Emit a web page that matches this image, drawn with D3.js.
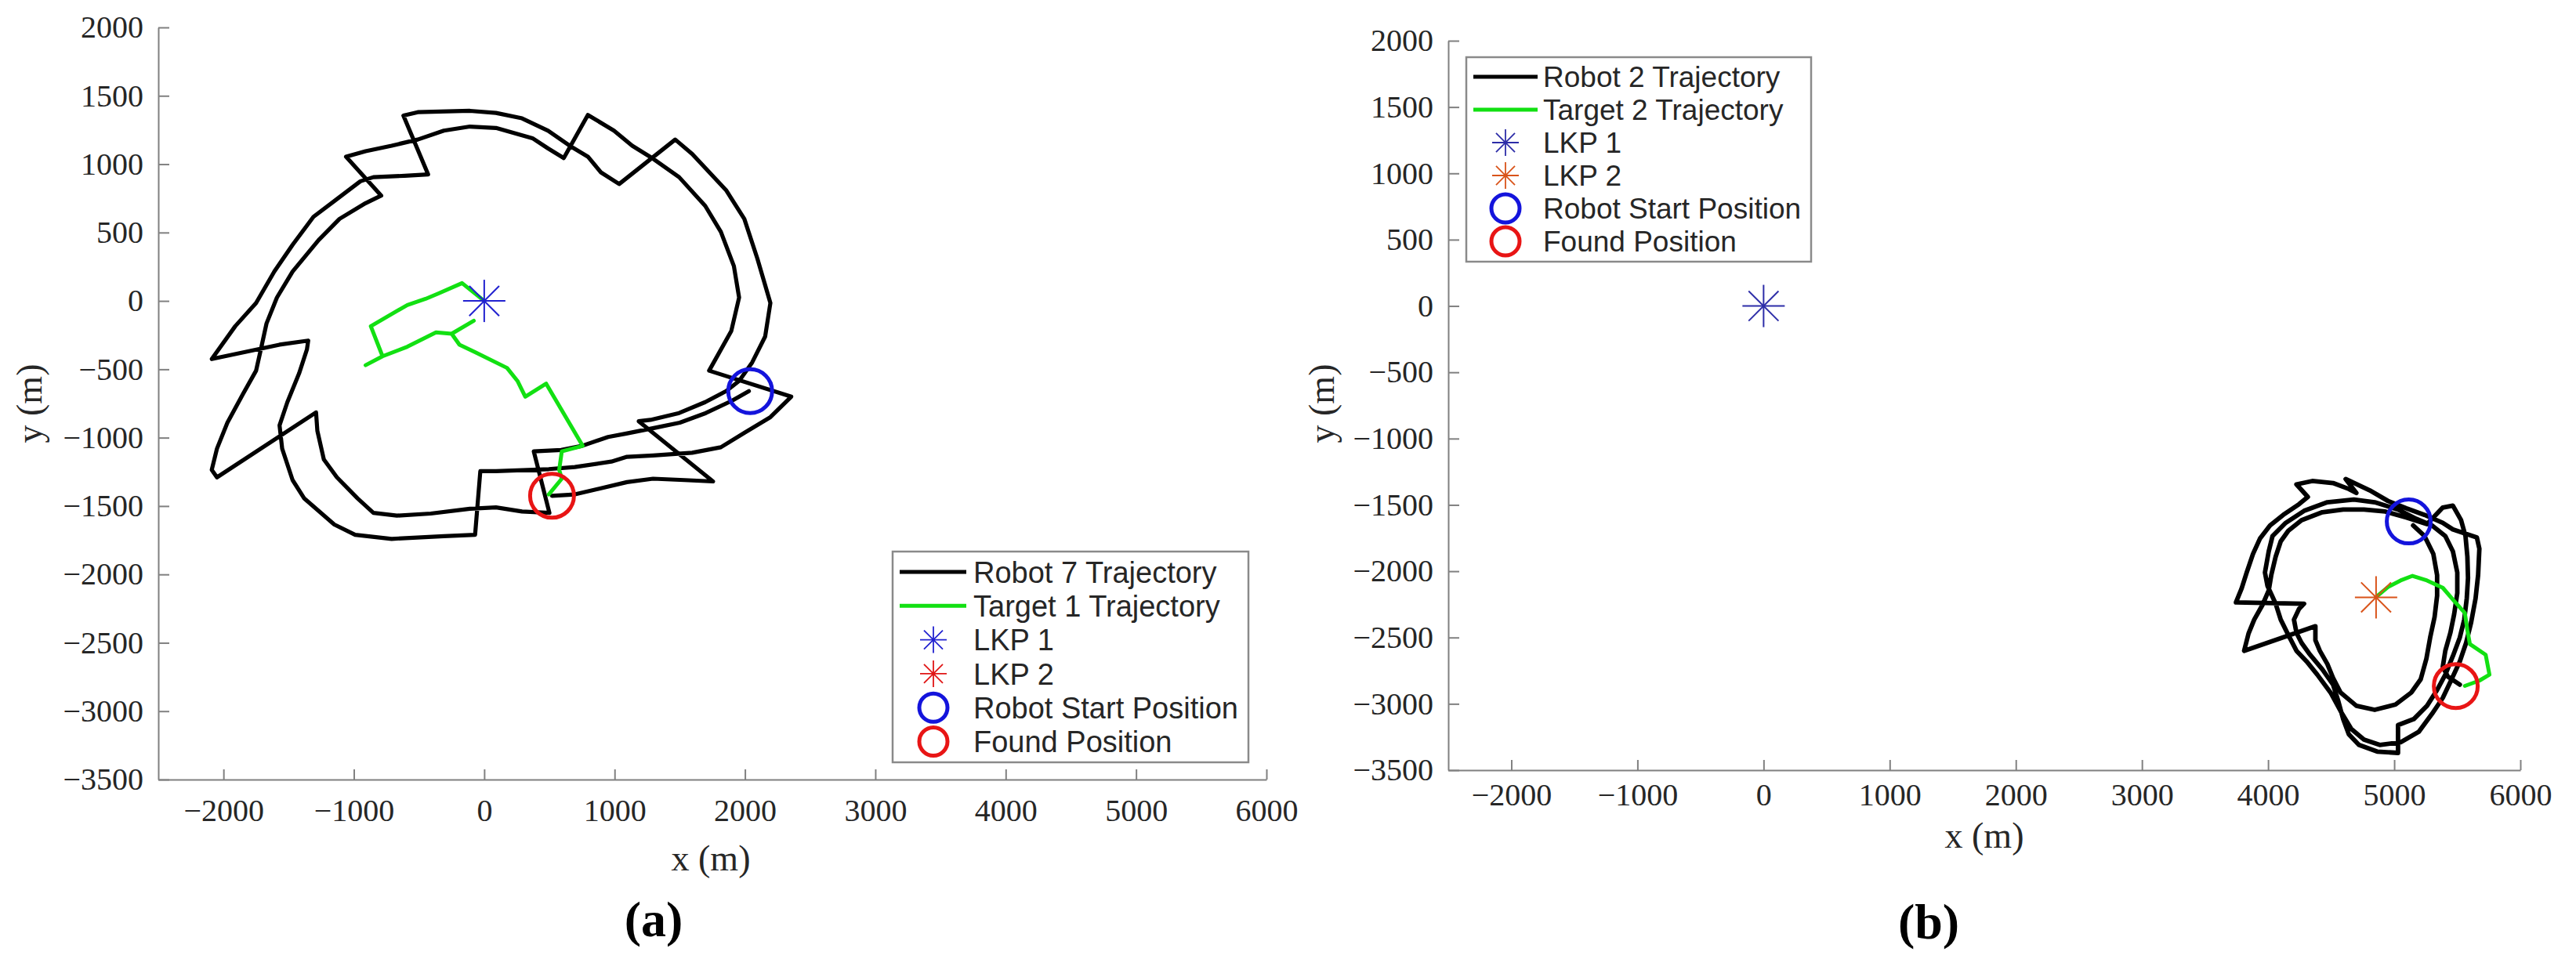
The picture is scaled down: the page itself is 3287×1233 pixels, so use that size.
<!DOCTYPE html>
<html>
<head>
<meta charset="utf-8">
<script src="https://cdn.jsdelivr.net/npm/d3@7"></script>
<style>
  body { margin: 0; background: #fff; }
  svg { display: block; }
  .tick text { font-family: "Liberation Serif", "Times New Roman", serif; font-size: 40px; fill: #262626; }
  .axis path, .axis line { stroke: #808080; stroke-width: 2; }
  .lab { font-family: "Liberation Serif", "Times New Roman", serif; font-size: 46px; fill: #262626; }
  .tag { font-family: "Liberation Serif", "Times New Roman", serif; font-size: 64px; font-weight: bold; fill: #000; }
  .leg text { font-family: "Liberation Sans", Arial, sans-serif; fill: #262626; }
</style>
</head>
<body>
<script>
// ---- data (metres) ----
const xTicks = [-2000, -1000, 0, 1000, 2000, 3000, 4000, 5000, 6000];
const yTicks = [-3500, -3000, -2500, -2000, -1500, -1000, -500, 0, 500, 1000, 1500, 2000];

const namesA = ['Robot 7 Trajectory', 'Target 1 Trajectory', 'LKP 1', 'LKP 2', 'Robot Start Position', 'Found Position'];
const namesB = ['Robot 2 Trajectory', 'Target 2 Trajectory', 'LKP 1', 'LKP 2', 'Robot Start Position', 'Found Position'];

const lkp1 = [0, 0];
const lkp2 = [4856, -2197];
const startA = [2040, -660];
const foundA = [520, -1425];
const startB = [5115, -1625];
const foundB = [5488, -2866];

const robot7 = [
  [2030,-660],[1900,-730],[1700,-820],[1500,-890],[1300,-930],[1090,-970],[950,-995],[750,-1060],[590,-1090],[380,-1100],
  [500,-1550],[290,-1540],[90,-1510],[-110,-1520],[-410,-1555],[-670,-1570],[-850,-1550],[-970,-1445],[-1130,-1290],[-1230,-1160],[-1280,-950],[-1290,-815],
  [-2050,-1290],[-2090,-1235],[-2050,-1080],[-1970,-890],[-1850,-680],[-1750,-510],[-1710,-340],[-1670,-165],[-1590,25],[-1470,215],[-1270,445],[-1110,600],[-910,715],[-790,770],
  [-1060,1055],[-910,1095],[-710,1135],[-510,1180],[-310,1245],[-110,1275],[90,1265],[370,1190],[490,1115],[610,1045],
  [795,1360],[995,1245],[1135,1135],[1295,1040],[1495,905],[1695,695],[1815,505],[1915,255],[1955,25],[1895,-220],[1725,-510],
  [2355,-700],[2195,-850],[1995,-965],[1815,-1070],[1595,-1110],[1295,-1130],[1095,-1140],[975,-1175],[695,-1215],[495,-1230],[90,-1245],[-30,-1245],
  [-70,-1710],[-310,-1720],[-710,-1740],[-990,-1710],[-1150,-1635],[-1380,-1445],[-1470,-1310],[-1550,-1080],[-1570,-910],[-1510,-740],[-1420,-530],[-1360,-355],[-1350,-290],
  [-1570,-320],[-2090,-425],[-1910,-185],[-1750,-15],[-1610,215],[-1470,410],[-1310,615],[-1150,730],[-950,875],[-850,905],[-610,915],[-430,925],
  [-620,1355],[-510,1380],[-110,1390],[90,1375],[290,1335],[490,1245],[655,1135],[795,1055],[895,940],[1035,855],
  [1465,1180],[1595,1075],[1855,810],[1995,600],[2095,310],[2195,-15],[2155,-260],[2055,-450],[1955,-585],[1855,-660],[1695,-740],[1495,-820],[1275,-870],[1185,-880],
  [1755,-1320],[1535,-1310],[1295,-1300],[1095,-1325],[895,-1370],[695,-1415],[520,-1425]
];

const target1 = [
  [0,0],[-170,130],[-350,55],[-450,15],[-590,-30],[-870,-185],[-780,-405],[-910,-470],[-780,-405],[-590,-335],
  [-370,-230],[-250,-240],[-80,-145],[-250,-240],[-190,-320],[-70,-375],[175,-490],[255,-585],[315,-700],[475,-605],
  [755,-1060],[595,-1100],[575,-1235],[595,-1300],[495,-1415]
];

const robot2 = [
  [5150,-1655],[5240,-1735],[5310,-1870],[5340,-2030],[5340,-2185],[5320,-2345],[5285,-2500],[5255,-2660],[5210,-2815],[5135,-2915],
  [5010,-3005],[4845,-3045],[4700,-3015],[4575,-2915],[4515,-2805],[4470,-2700],[4410,-2600],[4375,-2520],[4375,-2415],
  [3810,-2600],
  [3845,-2470],[3890,-2365],[3955,-2255],[4005,-2145],[4025,-2030],[4060,-1890],[4100,-1775],[4160,-1695],[4265,-1615],[4430,-1555],
  [4595,-1535],[4760,-1535],[4930,-1550],[5095,-1595],[5260,-1645],[5385,-1520],[5465,-1505],[5530,-1615],[5565,-1735],[5580,-1890],
  [5585,-2050],[5575,-2205],[5555,-2365],[5520,-2500],[5465,-2640],[5405,-2780],[5340,-2895],[5260,-3015],[5155,-3115],[5030,-3160],
  [5030,-3370],[4865,-3360],[4720,-3310],[4640,-3230],[4595,-3115],[4555,-2975],[4515,-2855],[4430,-2740],[4325,-2620],[4265,-2540],
  [4225,-2465],[4205,-2365],[4245,-2285],[4285,-2245],
  [3745,-2235],
  [3790,-2130],[3830,-2010],[3880,-1870],[3935,-1755],[4015,-1655],[4120,-1575],[4245,-1495],[4315,-1440],[4225,-1345],[4350,-1320],
  [4515,-1335],[4640,-1380],[4700,-1410],[4615,-1305],[4805,-1390],[4950,-1470],[5095,-1525],[5240,-1575],[5385,-1635],[5465,-1685],
  [5590,-1725],[5655,-1745],[5675,-1830],[5665,-2030],[5645,-2205],[5610,-2385],[5570,-2540],[5520,-2680],[5455,-2815],[5385,-2955],
  [5300,-3075],[5195,-3210],[5050,-3290],[4885,-3310],[4760,-3270],[4660,-3190],[4575,-3055],
  [4495,-2915],[4390,-2780],[4305,-2680],[4225,-2600],[4160,-2480],[4100,-2365],[4060,-2245],[3995,-2110],[3975,-2010],[4005,-1850],
  [4035,-1735],[4140,-1635],[4285,-1545],[4470,-1480],[4680,-1460],[4845,-1480],[5030,-1535],[5175,-1605],[5300,-1655],[5405,-1735],
  [5465,-1850],[5500,-2010],[5500,-2165],[5475,-2325],[5445,-2465],[5405,-2600],[5385,-2720],[5425,-2795],[5520,-2855]
];

const target2 = [
  [4855,-2195],[4950,-2120],[5050,-2070],[5145,-2035],[5260,-2070],[5385,-2125],[5475,-2225],[5560,-2315],
  [5580,-2445],[5600,-2550],[5725,-2630],[5755,-2780],[5675,-2825],[5560,-2865]
];

// ---- colours ----
const C = {
  robot: '#000000', target: '#12e012',
  startC: '#1414dc', foundC: '#e81515'
};

const panels = [
  {
    box: { l: 202, r: 1616, t: 35, b: 995 }, xpad: 25, lw: 5.2,
    robot: robot7, target: target1, start: startA, found: foundA,
    stars: [{ p: lkp1, color: '#2222d0' }],
    names: namesA, starColors: ['#2222d0', '#e01515'],
    legend: { x: 1139, y: 704, w: 454, h: 269, row0: 730, dy: 43.3, lx0: 1148, lx1: 1233, mx: 1191, tx: 1242, fs: 38 },
    ylab: [37, 515], xlab: [907, 1095], tag: ['(a)', 834, 1173]
  },
  {
    box: { l: 1848, r: 3216, t: 52, b: 983 }, xpad: 17, lw: 5.8,
    robot: robot2, target: target2, start: startB, found: foundB,
    stars: [{ p: lkp1, color: '#2d2da8' }, { p: lkp2, color: '#d95319' }],
    names: namesB, starColors: ['#2d2da8', '#d95319'],
    legend: { x: 1871, y: 73, w: 440, h: 261, row0: 98, dy: 42, lx0: 1880, lx1: 1962, mx: 1921, tx: 1969, fs: 37 },
    ylab: [1686, 515], xlab: [2532, 1066], tag: ['(b)', 2461, 1176]
  }
];

const svg = d3.select('body').append('svg').attr('width', 3287).attr('height', 1233);

function star(g, cx, cy, r, color, w) {
  const d = r * Math.SQRT1_2;
  const arms = [[-r, 0, r, 0], [0, -r, 0, r], [-d, -d, d, d], [-d, d, d, -d]];
  g.append('g').selectAll('line').data(arms).join('line')
    .attr('x1', a => cx + a[0]).attr('y1', a => cy + a[1])
    .attr('x2', a => cx + a[2]).attr('y2', a => cy + a[3])
    .attr('stroke', color).attr('stroke-width', w);
  g.append('circle').attr('cx', cx).attr('cy', cy).attr('r', w * 0.9).attr('fill', color);
}

panels.forEach(p => {
  const { l, r, t, b } = p.box;
  const x = d3.scaleLinear().domain([-2500, 6000]).range([l, r]);
  const y = d3.scaleLinear().domain([-3500, 2000]).range([b, t]);
  const g = svg.append('g');

  // axes (ticks point inward, like MATLAB)
  g.append('g').attr('class', 'axis').attr('transform', `translate(${l},0)`)
    .call(d3.axisLeft(y).tickValues(yTicks).tickFormat(d3.format('d'))
      .tickSizeInner(-14).tickSizeOuter(0).tickPadding(19));
  g.append('g').attr('class', 'axis').attr('transform', `translate(0,${b})`)
    .call(d3.axisBottom(x).tickValues(xTicks).tickFormat(d3.format('d'))
      .tickSizeInner(-13).tickSizeOuter(0).tickPadding(p.xpad));

  // trajectories
  const line = d3.line().x(d => x(d[0])).y(d => y(d[1]));
  g.append('path').datum(p.robot).attr('d', line)
    .attr('fill', 'none').attr('stroke', C.robot).attr('stroke-width', p.lw)
    .attr('stroke-linejoin', 'round').attr('stroke-linecap', 'round');
  g.append('path').datum(p.target).attr('d', line)
    .attr('fill', 'none').attr('stroke', C.target).attr('stroke-width', 5)
    .attr('stroke-linejoin', 'round').attr('stroke-linecap', 'round');

  // markers
  p.stars.forEach(s => star(g, x(s.p[0]), y(s.p[1]), 27, s.color, 2));
  g.append('circle').attr('cx', x(p.start[0])).attr('cy', y(p.start[1])).attr('r', 28)
    .attr('fill', 'none').attr('stroke', C.startC).attr('stroke-width', 5);
  g.append('circle').attr('cx', x(p.found[0])).attr('cy', y(p.found[1])).attr('r', 28)
    .attr('fill', 'none').attr('stroke', C.foundC).attr('stroke-width', 5);

  // axis labels
  g.append('text').attr('class', 'lab').attr('text-anchor', 'middle').attr('dy', '0.35em')
    .attr('x', p.xlab[0]).attr('y', p.xlab[1]).text('x (m)');
  g.append('text').attr('class', 'lab').attr('text-anchor', 'middle').attr('dy', '0.35em')
    .attr('transform', `translate(${p.ylab[0]},${p.ylab[1]}) rotate(-90)`).text('y (m)');
  g.append('text').attr('class', 'tag').attr('text-anchor', 'middle').attr('dy', '0.35em')
    .attr('x', p.tag[1]).attr('y', p.tag[2]).text(p.tag[0]);

  // legend
  const L = p.legend;
  const lg = g.append('g').attr('class', 'leg');
  lg.append('rect').attr('x', L.x).attr('y', L.y).attr('width', L.w).attr('height', L.h)
    .attr('fill', '#fff').attr('stroke', '#8a8a8a').attr('stroke-width', 2.5);
  p.names.forEach((name, i) => {
    const ry = L.row0 + i * L.dy;
    if (i < 2) {
      lg.append('line').attr('x1', L.lx0).attr('x2', L.lx1).attr('y1', ry).attr('y2', ry)
        .attr('stroke', i === 0 ? C.robot : C.target).attr('stroke-width', 5);
    } else if (i < 4) {
      star(lg, L.mx, ry, 17, p.starColors[i - 2], 1.8);
    } else {
      lg.append('circle').attr('cx', L.mx).attr('cy', ry).attr('r', 18)
        .attr('fill', 'none').attr('stroke', i === 4 ? C.startC : C.foundC).attr('stroke-width', 5);
    }
    lg.append('text').attr('x', L.tx).attr('y', ry).attr('dy', '0.36em')
      .style('font-size', L.fs + 'px').text(name);
  });
});
</script>
</body>
</html>
